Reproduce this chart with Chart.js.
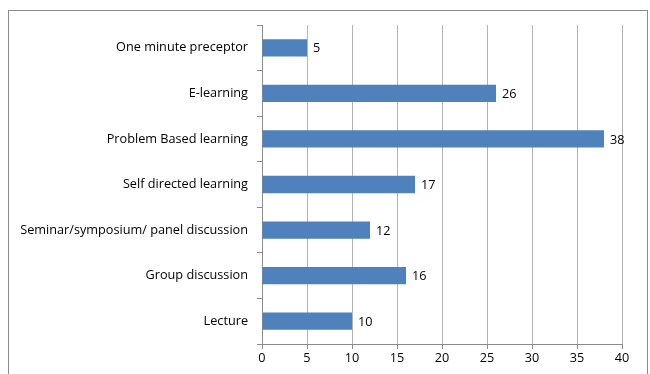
<!DOCTYPE html>
<html>
<head>
<meta charset="utf-8">
<script src="https://cdn.jsdelivr.net/npm/chart.js@4"></script>
<style>
  html, body { margin: 0; padding: 0; background: #fff; }
  #wrap { position: relative; width: 650px; height: 374px; }
</style>
</head>
<body>
<div id="wrap"><canvas id="methodsChart" width="650" height="374"></canvas></div>
<script>
// Teaching methods and number of responses
const categories = [
  'One minute preceptor',
  'E-learning',
  'Problem Based learning',
  'Self directed learning',
  'Seminar/symposium/ panel discussion',
  'Group discussion',
  'Lecture'
];
const responses = [5, 26, 38, 17, 12, 16, 10];
const xTicks = [0, 5, 10, 15, 20, 25, 30, 35, 40];

const FONT = { family: '"Open Sans", "Liberation Sans", Arial, sans-serif', size: 12.7 };

// Thin frame around the whole chart
const framePlugin = {
  id: 'frame',
  beforeDraw(chart) {
    const ctx = chart.ctx;
    ctx.save();
    ctx.strokeStyle = '#8c8c8c';
    ctx.lineWidth = 1;
    ctx.strokeRect(8.5, 10.5, 639, 400);
    ctx.restore();
  }
};

// Value printed just past the end of each bar
const valueLabels = {
  id: 'valueLabels',
  afterDatasetsDraw(chart) {
    const ctx = chart.ctx;
    const meta = chart.getDatasetMeta(0);
    ctx.save();
    ctx.fillStyle = '#000';
    ctx.font = FONT.size + 'px ' + FONT.family;
    ctx.textAlign = 'left';
    ctx.textBaseline = 'middle';
    meta.data.forEach((bar, i) => {
      ctx.fillText(String(responses[i]), bar.x + 6, bar.y + 1);
    });
    ctx.restore();
  }
};

const ctx = document.getElementById('methodsChart').getContext('2d');
new Chart(ctx, {
  type: 'bar',
  data: {
    labels: categories,
    datasets: [{
      data: responses,
      backgroundColor: '#4f81bd',
      borderWidth: 0,
      categoryPercentage: 0.38,
      barPercentage: 1.0
    }]
  },
  options: {
    indexAxis: 'y',
    responsive: false,
    animation: false,
    events: [],
    layout: { padding: { top: 25, right: 28, bottom: 0, left: 0 } },
    plugins: {
      legend: { display: false },
      tooltip: { enabled: false }
    },
    scales: {
      x: {
        min: 0,
        max: 40,
        afterBuildTicks(scale) {
          scale.ticks = xTicks.map(v => ({ value: v }));
        },
        afterFit(scale) { scale.height = 30; },
        grid: {
          color: '#b4b4b4',
          tickColor: '#8c8c8c',
          tickLength: 5,
          lineWidth: 1
        },
        border: { color: '#8c8c8c', width: 1 },
        ticks: { color: '#000', font: FONT, padding: 2, maxRotation: 0 }
      },
      y: {
        afterFit(scale) { scale.width = 262; },
        grid: {
          offset: true,
          drawOnChartArea: false,
          tickColor: '#8c8c8c',
          tickLength: 5
        },
        border: { color: '#8c8c8c', width: 1 },
        ticks: { color: '#000', font: FONT, padding: 9 }
      }
    }
  },
  plugins: [framePlugin, valueLabels]
});
</script>
</body>
</html>
